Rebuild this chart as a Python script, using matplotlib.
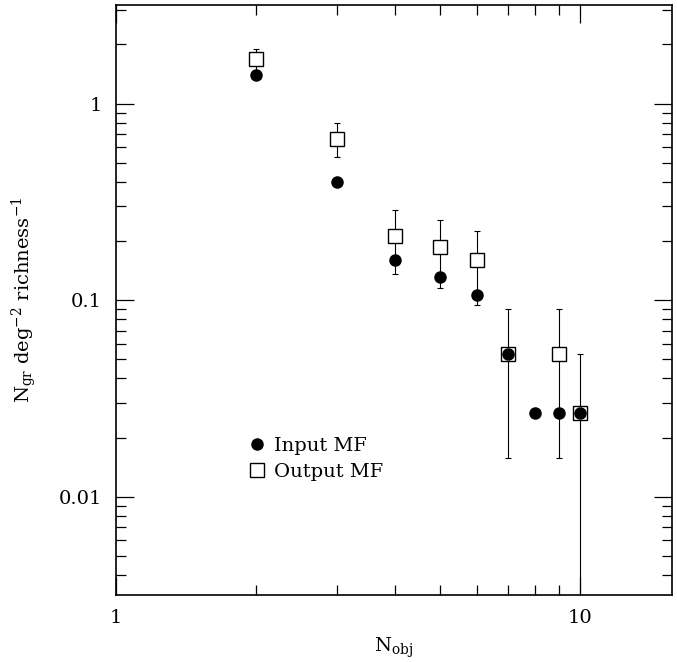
import matplotlib
matplotlib.use("Agg")
import matplotlib.pyplot as plt
from matplotlib.ticker import FixedLocator, NullFormatter, FixedFormatter

plt.rcParams["font.family"] = ["DejaVu Serif"]
plt.rcParams["mathtext.fontset"] = "dejavuserif"

# input mass function
n_in = [2, 3, 4, 5, 6, 7, 8, 9, 10]
dens_in = [1.39, 0.397, 0.160, 0.132, 0.106, 0.0532, 0.0268, 0.0268, 0.0268]

# output mass function with errors
n_out = [2, 3, 4, 5, 6, 7, 9, 10]
dens_out = [1.69, 0.664, 0.211, 0.186, 0.160, 0.0532, 0.0532, 0.0268]
err_out = [0.21, 0.13, 0.075, 0.07, 0.065, 0.0375, 0.0375, 0.0266]

fig = plt.figure(figsize=(6.77, 6.62), dpi=100)
ax = fig.add_axes([0.171, 0.101, 0.822, 0.891])

ax.errorbar(n_out, dens_out, yerr=err_out, fmt="none", ecolor="black",
            elinewidth=0.8, capsize=2.5, capthick=0.8, zorder=1)
ax.plot(n_out, dens_out, ls="none", marker="s", ms=10, mfc="white",
        mec="black", mew=1.0, label="Output MF", zorder=2)
ax.plot(n_in, dens_in, ls="none", marker="o", ms=8, color="black",
        label="Input MF", zorder=3)

ax.set_xscale("log")
ax.set_yscale("log")
ax.set_xlim(1, 15.8)
ax.set_ylim(10 ** -2.5, 10 ** 0.5)

ax.xaxis.set_major_locator(FixedLocator([1, 10]))
ax.xaxis.set_major_formatter(FixedFormatter(["1", "10"]))
ax.xaxis.set_minor_locator(FixedLocator([2, 3, 4, 5, 6, 7, 8, 9]))
ax.xaxis.set_minor_formatter(NullFormatter())
ax.yaxis.set_major_locator(FixedLocator([0.01, 0.1, 1]))
ax.yaxis.set_major_formatter(FixedFormatter(["0.01", "0.1", "1"]))
yminor = [m * 10.0 ** e for e in (-3, -2, -1, 0) for m in range(2, 10)]
ax.yaxis.set_minor_locator(FixedLocator(yminor))
ax.yaxis.set_minor_formatter(NullFormatter())

ax.tick_params(which="both", direction="in", top=True, right=True,
               width=0.9, labelsize=14, pad=10)
ax.tick_params(which="major", length=13)
ax.tick_params(which="minor", length=7)
for s in ax.spines.values():
    s.set_linewidth(1.2)

ax.set_xlabel(r"N$_{\rm obj}$", fontsize=14, labelpad=6)
ax.set_ylabel(r"N$_{\rm gr}$ deg$^{-2}$ richness$^{-1}$", fontsize=14,
              labelpad=14)

h, l = ax.get_legend_handles_labels()
ax.legend(h[::-1], l[::-1], loc="upper left", bbox_to_anchor=(0.215, 0.285),
          frameon=False, fontsize=14, handletextpad=0.3, handlelength=1.2,
          labelspacing=0.4, borderpad=0)

fig.savefig("out.png", dpi=100)
